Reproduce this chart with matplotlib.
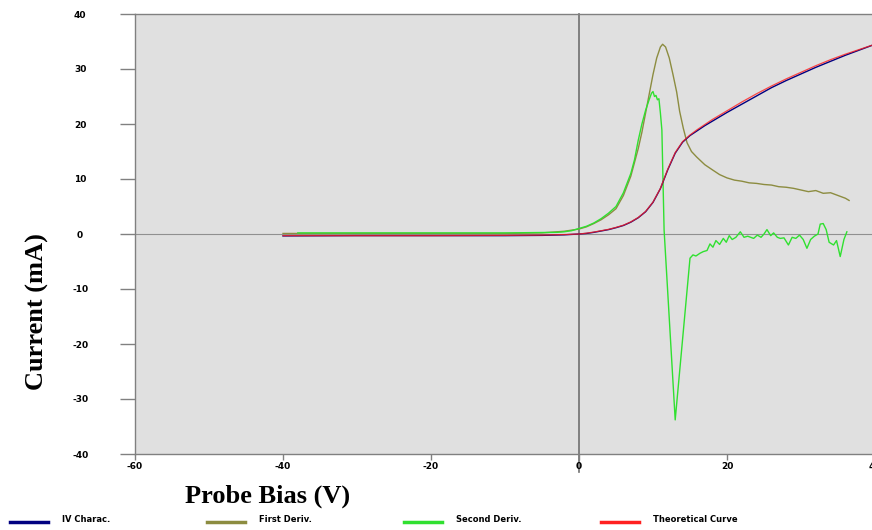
import matplotlib
matplotlib.use('Agg')
import matplotlib.pyplot as plt
from matplotlib.lines import Line2D

# IV characteristic and fitted curve
iv_x = [-40, -30, -20, -10, -5, -2, 0, 1, 2, 3, 4, 5, 6, 7, 8, 9, 10, 11, 12, 13,
        14, 15, 16, 17, 18, 20, 22, 24, 26, 28, 30, 32, 34, 36, 38, 40]
iv_y = [-0.35, -0.3, -0.3, -0.3, -0.25, -0.15, 0.0, 0.1, 0.3, 0.55, 0.8, 1.15, 1.55, 2.15, 2.95,
        4.05, 5.75, 8.25, 11.7, 14.7, 16.7, 17.9, 18.8, 19.7, 20.5, 22.1, 23.6, 25.1, 26.6,
        27.9, 29.1, 30.3, 31.4, 32.5, 33.5, 34.5]
theo_y = [-0.3, -0.3, -0.3, -0.25, -0.2, -0.1, 0.0, 0.15, 0.35, 0.6, 0.85, 1.2, 1.6, 2.2, 3.0,
          4.1, 5.8, 8.3, 11.8, 14.8, 16.8, 18.0, 19.0, 19.9, 20.8, 22.4, 24.0, 25.5, 26.9,
          28.2, 29.4, 30.6, 31.7, 32.7, 33.6, 34.5]

# first derivative
d1_x = [-40, -30, -20, -10, -5, -2, 0, 1, 2, 3, 4, 5, 6, 7, 8, 8.5, 9, 9.6, 10, 10.5,
        11, 11.3, 11.7, 12.2, 12.7, 13.2, 13.6, 14.1, 14.6, 15.2, 15.9, 17, 18.1, 19, 20,
        21, 22, 23, 24, 25, 26, 27, 28, 29, 30, 31, 32, 33, 34, 35, 36, 36.5]
d1_y = [0.1, 0.1, 0.1, 0.1, 0.2, 0.5, 0.9, 1.3, 1.9, 2.6, 3.5, 4.6, 7.0, 10.5, 15.5, 18.5,
        22.0, 26.2, 29.0, 32.0, 34.0, 34.5, 34.0, 32.0, 29.0, 25.8, 22.3, 19.2, 16.6, 15.0,
        14.0, 12.6, 11.6, 10.8, 10.2, 9.8, 9.6, 9.3, 9.2, 9.0, 8.9, 8.6, 8.5, 8.3, 8.0, 7.7,
        7.9, 7.4, 7.5, 7.0, 6.5, 6.1]

# second derivative
d2_x = [-38, -30, -20, -10, -3, -2, -1, 0, 1, 2, 3, 4, 5, 6, 7, 7.5, 8, 8.5, 9, 9.5, 9.8,
        10.0, 10.2, 10.4, 10.6, 10.8, 11.0, 11.2, 11.5, 13.0, 15.0, 15.4, 15.8, 16.35, 16.8,
        17.3, 17.7, 18.1, 18.5, 19.0, 19.5, 19.9, 20.3, 20.7, 21.2, 21.8, 22.3, 22.8, 23.6,
        24.1, 24.6, 25.0, 25.4, 25.9, 26.3, 26.8, 27.2, 27.7, 28.3, 28.8, 29.3, 29.8, 30.3,
        30.8, 31.3, 31.8, 32.3, 32.6, 33.0, 33.4, 33.8, 34.4, 34.8, 35.3, 35.8, 36.2]
d2_y = [0.2, 0.2, 0.2, 0.2, 0.3, 0.4, 0.6, 1.0, 1.4, 2.0, 2.8, 3.8, 5.0, 7.5, 11.0, 13.5,
        17.0, 20.0, 22.5, 24.5, 25.6, 25.9, 25.0, 25.2, 24.4, 24.6, 22.0, 18.9, 0.7, -33.8,
        -4.4, -3.8, -4.0, -3.5, -3.2, -3.0, -1.8, -2.4, -1.2, -1.9, -0.8, -1.5, -0.3, -1.0,
        -0.6, 0.4, -0.6, -0.4, -0.8, -0.2, -0.6, 0.0, 0.8, -0.3, 0.2, -0.6, -0.8, -0.7, -2.0,
        -0.6, -0.8, -0.2, -1.0, -2.6, -1.0, -0.4, 0.0, 1.8, 1.9, 0.8, -1.5, -2.0, -1.2, -4.1,
        -1.0, 0.4]

x_ticks = [-60, -40, -20, 0, 20, 40]
y_ticks = [-40, -30, -20, -10, 0, 10, 20, 30, 40]
names = ['IV Charac.', 'First Deriv.', 'Second Deriv.', 'Theoretical Curve']
colors = ['#000080', '#8c8c40', '#30e030', '#ff2020']

small = ['Liberation Sans Narrow', 'DejaVu Sans']

fig = plt.figure(figsize=(8.72, 5.30), dpi=100)
ax = fig.add_axes([135 / 872, 76 / 530, 740 / 872, 440 / 530])
ax.set_facecolor('#e0e0e0')

ax.axhline(0, color='#909090', lw=0.8, zorder=1)
ax.axvline(0, ymin=-0.04, ymax=1, color='#707070', lw=1.2, clip_on=False, zorder=1)

ax.plot(iv_x, iv_y, color=colors[0], lw=1.0, zorder=3)
ax.plot(iv_x, theo_y, color=colors[3], lw=0.9, alpha=0.8, zorder=4)
ax.plot(d1_x, d1_y, color=colors[1], lw=1.0, zorder=2)
ax.plot(d2_x, d2_y, color=colors[2], lw=1.0, zorder=2)

ax.set_xlim(-60, 40)
ax.set_ylim(-40, 40)
ax.set_xticks(x_ticks)
ax.set_yticks(y_ticks)
ax.set_xticklabels([str(t) for t in x_ticks], family=small, fontsize=6.5, fontweight='bold')
ax.set_yticklabels([str(t) for t in y_ticks], family=small, fontsize=6.5, fontweight='bold',
                   ha='center')
ax.tick_params(axis='y', length=10.5, width=1, color='#808080', pad=29)
ax.tick_params(axis='x', length=4, width=1, color='#808080', pad=2)
for s in ax.spines.values():
    s.set_color('#808080')
    s.set_linewidth(1.0)

fig.text(37 / 872, 1 - 312 / 530, 'Current (mA)', rotation=90, ha='center', va='center',
         family='Liberation Serif', fontweight='bold', fontsize=19)
fig.text(268 / 872, 1 - 496 / 530, 'Probe Bias (V)', ha='center', va='center',
         family='Liberation Serif', fontweight='bold', fontsize=19)

# legend row along the bottom
for i, (name, c) in enumerate(zip(names, colors)):
    x0 = 10 + i * 197
    fig.add_artist(Line2D([x0 / 872, (x0 + 38) / 872], [1 - 522 / 530] * 2,
                          color=c, lw=2.5, transform=fig.transFigure))
    fig.text((x0 + 52) / 872, 1 - 520 / 530, name, ha='left', va='center',
             family=small, fontsize=6, fontweight='bold')

fig.savefig('out.png', dpi=100)
